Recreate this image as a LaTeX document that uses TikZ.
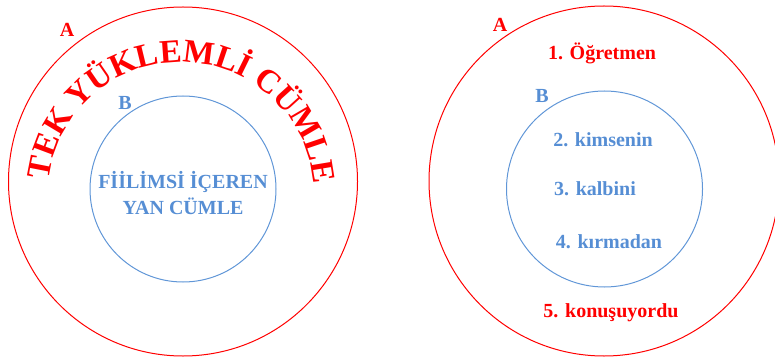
\documentclass[tikz,border=0pt]{standalone}
\usepackage{fontspec}
\setmainfont{Liberation Serif}
\usetikzlibrary{decorations.text}
\definecolor{myred}{RGB}{255,0,0}
\definecolor{myblue}{RGB}{86,142,212}
\definecolor{circblue}{RGB}{96,150,215}
\tikzset{
  ring/.style={circle, draw, inner sep=0pt, line width=1pt},
  redring/.style={ring, draw=myred},
  bluering/.style={ring, draw=circblue},
  lbl/.style={font=\bfseries\fontsize{20}{24}\selectfont, inner sep=0pt},
  redlbl/.style={lbl, text=myred},
  bluelbl/.style={lbl, text=myblue},
}
\begin{document}
\begin{tikzpicture}[x=1pt,y=1pt]
\clip (0,0) rectangle (775,359);
\useasboundingbox (0,0) rectangle (775,359);
% left diagram
\node[redring, minimum size=349pt] (LA) at (183,177.5) {};
\node[bluering, minimum size=186pt] (LB) at (183,170) {};
\node[redlbl] (LAl) at (67,329) {A};
\node[bluelbl] (LBl) at (125,256) {B};
\node[bluelbl, align=center, font=\bfseries\fontsize{20}{26}\selectfont] (LBt) at (183,166) {FİİLİMSİ İÇEREN\\YAN CÜMLE};
\coordinate (arcc) at (181,164);
\path[decorate, decoration={text along path, text align={fit to path},
  text={|\bfseries\fontsize{33}{33}\selectfont\color{myred}|TEK YÜKLEMLİ CÜMLE}}]
  (arcc) ++(173.6:133) arc[start angle=173.6, end angle=6.5, radius=133];
% right diagram
\node[redring, minimum size=350pt] (RA) at (604,178) {};
\node[bluering, minimum size=196pt] (RB) at (604.5,170) {};
\node[redlbl] (RAl) at (500,334) {A};
\node[bluelbl] (RBl) at (542,263) {B};
\node[redlbl] (w1) at (602,306) {1. Öğretmen};
\node[bluelbl] (w2) at (603,219) {2. kimsenin};
\node[bluelbl] (w3) at (595,170) {3. kalbini};
\node[bluelbl] (w4) at (609,117) {4. kırmadan};
\node[redlbl] (w5) at (611,46) {5. konuşuyordu};
\end{tikzpicture}
\end{document}
